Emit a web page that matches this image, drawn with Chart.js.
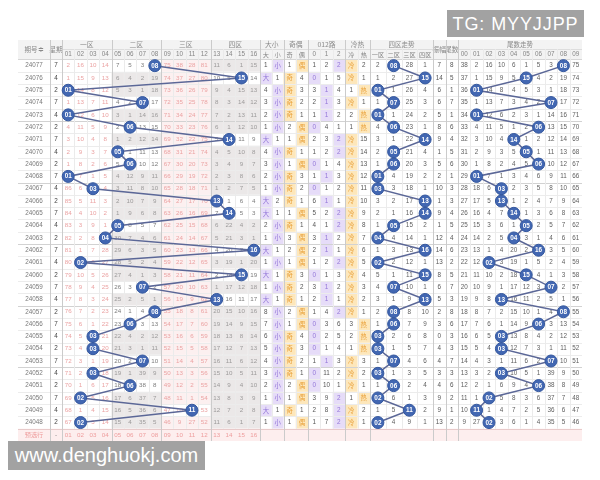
<!DOCTYPE html>
<html>
<head>
<meta charset="utf-8">
<script src="https://cdn.jsdelivr.net/npm/chart.js@4.4.1/dist/chart.umd.min.js"></script>
<style>
  html, body { margin: 0; padding: 0; background: #ffffff; }
  #wrap { position: relative; width: 600px; height: 480px; overflow: hidden; }
  #trend { position: absolute; left: 0; top: 0; }
  .tag { position: absolute; background: #a2a2a2; color: #ffffff;
         font-family: "Liberation Sans", Arial, sans-serif; white-space: nowrap; text-align: center; }
  #tg { left: 447px; top: 10px; width: 137px; height: 27px; line-height: 28px; font-size: 18px; letter-spacing: 0.9px; }
  #site { left: 8px; top: 441px; width: 197px; height: 29px; line-height: 29px; font-size: 20px; }
</style>
</head>
<body>
<div id="wrap">
  <canvas id="trend" width="600" height="480"></canvas>
  <div class="tag" id="tg">TG: MYYJJPP</div>
  <div class="tag" id="site">www.denghuokj.com</div>
</div>
<script>
// ---- draw data, newest issue first ----
const issues = ['24077','24076','24075','24074','24073','24072','24071','24070','24069','24068',
                '24067','24066','24065','24064','24063','24062','24061','24060','24059','24058',
                '24057','24056','24055','24054','24053','24052','24051','24050','24049','24048'];
const weekdays = [7,4,2,7,4,2,7,4,2,7, 4,2,7,4,2,7,4,2,7,4, 2,7,4,2,7,4,2,7,4,2];
const drawnNumbers = [8,15,1,7,1,6,14,5,6,1, 3,13,14,5,4,16,2,15,7,13, 8,6,3,3,7,3,6,2,11,2];
const amplitudes = [7,14,6,6,5,8,9,1,5,2, 10,1,9,1,12,14,13,8,6,5, 2,3,0,4,4,3,4,9,9,13];
const heatState = ['冷','冷','热','冷','热','热','冷','冷','冷','冷',
                   '冷','冷','冷','冷','冷','冷','冷','冷','冷','冷',
                   '冷','热','热','热','冷','冷','冷','热','冷','冷'];

// ---- tick / header labels ----
const numberLabels = ['01','02','03','04','05','06','07','08','09','10','11','12','13','14','15','16'];
const zoneNames = ['一区','二区','三区','四区'];
const sizeLabels = ['大','小'];
const parityLabels = ['奇','偶'];
const routeLabels = ['0','1','2'];
const heatLabels = ['冷','热'];
const tailLabels = ['00','01','02','03','04','05','06','07','08','09'];

// ---- omission counts shown on the oldest issue (24048); 0 marks the hit ----
const baseMissNumbers = [67,0,3,14,15,4,35,5,46,9,27,52,11,6,1,7];
const baseMissSize = [1,0];
const baseMissParity = [1,0];
const baseMissRoute = [1,7,0];
const baseMissHeat = [0,1];
const baseMissZone = [0,4,9,1];
const baseMissTail = [9,27,0,3,6,1,4,35,5,46];

const ROWS = issues.length;

// which column of each block an issue lands in
const hitOf = {
  num: i => drawnNumbers[i] - 1,
  size: i => drawnNumbers[i] >= 9 ? 0 : 1,
  parity: i => drawnNumbers[i] % 2 === 1 ? 0 : 1,
  route: i => drawnNumbers[i] % 3,
  heat: i => heatState[i] === '冷' ? 0 : 1,
  zone: i => Math.floor((drawnNumbers[i] - 1) / 4),
  tail: i => drawnNumbers[i] % 10
};

// omission = draws since the column was last hit, walked up from the oldest issue
function buildMiss(base, hit) {
  const out = new Array(ROWS);
  out[ROWS - 1] = base.slice();
  for (let i = ROWS - 2; i >= 0; i--) {
    const h = hit(i);
    out[i] = out[i + 1].map((v, c) => (c === h ? 0 : v + 1));
  }
  return out;
}
const miss = {
  num: buildMiss(baseMissNumbers, hitOf.num),
  size: buildMiss(baseMissSize, hitOf.size),
  parity: buildMiss(baseMissParity, hitOf.parity),
  route: buildMiss(baseMissRoute, hitOf.route),
  heat: buildMiss(baseMissHeat, hitOf.heat),
  zone: buildMiss(baseMissZone, hitOf.zone),
  tail: buildMiss(baseMissTail, hitOf.tail)
};

// ---- table layout (column widths in px, row height in px) ----
const HEAD_H = 19.5, ROW_H = 12.31;
const columns = [];
function addBlock(block, labels, w) {
  labels.forEach((lab, k) => columns.push({ block, k, lab, w }));
}
addBlock('issue', ['期号'], 32);
addBlock('week', ['星期'], 12);
addBlock('num', numberLabels, 12.375);
addBlock('size', sizeLabels, 11.75);
addBlock('parity', parityLabels, 12.25);
addBlock('route', routeLabels, 37 / 3);
addBlock('heat', heatLabels, 12.5);
addBlock('zone', zoneNames, 15.75);
addBlock('amp', ['振幅'], 12.5);
addBlock('tailv', ['尾数'], 12.5);
addBlock('tail', tailLabels, 12.4);
let acc = 0;
columns.forEach(c => { c.x0 = acc; acc += c.w; c.x1 = acc; c.cx = (c.x0 + c.x1) / 2; });
const TABLE_W = acc;
const colOf = (block, k) => columns.find(c => c.block === block && c.k === k);

// group header spans: [label, block, firstK, lastK, spansBothRows]
const groupHeads = [
  ['期号≑', 'issue', 0, 0, true], ['星期', 'week', 0, 0, true],
  ['一区', 'num', 0, 3], ['二区', 'num', 4, 7], ['三区', 'num', 8, 11], ['四区', 'num', 12, 15],
  ['大小', 'size', 0, 1], ['奇偶', 'parity', 0, 1], ['012路', 'route', 0, 2], ['冷热', 'heat', 0, 1],
  ['四区走势', 'zone', 0, 3], ['振幅', 'amp', 0, 0, true], ['尾数', 'tailv', 0, 0, true],
  ['尾数走势', 'tail', 0, 9]
];

const NUM_FONT = '"Liberation Sans", Arial, sans-serif';
const CJK_FONT = '"Noto Sans CJK SC", "Noto Sans", sans-serif';

// zone shading for the 01-16 block: [background, text] and the row colours when the zone is hit
const zoneStyle = [
  { bg: '#ffffff', fg: '#eba3a3', hitBg: '#ffffff', hitFg: '#eba3a3' },
  { bg: '#ebe8e8', fg: '#9c9a9a', hitBg: '#ffffff', hitFg: '#7c7c7c' },
  { bg: '#fcf0f0', fg: '#eba3a3', hitBg: '#ffffff', hitFg: '#eba3a3' },
  { bg: '#ebe8e8', fg: '#9c9a9a', hitBg: '#ffffff', hitFg: '#7c7c7c' }
];
const purpleHit = { bg: '#e6dcf8', fg: '#9376d8' };
const orangeHit = { bg: '#fde7bb', fg: '#e9a038' };

const tablePlugin = {
  id: 'trendTable',
  beforeDatasetsDraw(chart) {
    const ctx = chart.ctx, xs = chart.scales.x, ys = chart.scales.y;
    const px = v => xs.getPixelForValue(v);
    const py = v => ys.getPixelForValue(v);
    const headTop = py(-HEAD_H / ROW_H), headMid = py(-HEAD_H / ROW_H / 2 - 0.05), bodyTop = py(0);
    const left = px(0), right = px(TABLE_W);
    ctx.save();
    ctx.textAlign = 'center';
    ctx.textBaseline = 'middle';

    const rect = (x0, x1, y0, y1, color) => { ctx.fillStyle = color; ctx.fillRect(x0, y0, x1 - x0, y1 - y0); };
    const text = (s, x, y, color, size, font, bold) => {
      ctx.fillStyle = color;
      ctx.font = (bold ? 'bold ' : '') + size + 'px ' + font;
      ctx.fillText(s, x, y);
    };

    // header
    rect(left, right, headTop, bodyTop, '#f3f3f3');
    groupHeads.forEach(([lab, block, a, b, both]) => {
      const c0 = colOf(block, a), c1 = colOf(block, b);
      const x = (px(c0.x0) + px(c1.x1)) / 2;
      const y = both ? (headTop + bodyTop) / 2 : (headTop + headMid) / 2;
      const isCjk = /[\u4e00-\u9fff]/.test(lab);
      text(lab, x, y, '#8a8a8a', lab.length > 2 && block !== 'route' ? 6.5 : 6.8, isCjk ? CJK_FONT : NUM_FONT);
    });
    columns.forEach(c => {
      if (['issue', 'week', 'amp', 'tailv'].includes(c.block)) return;
      const isCjk = /[\u4e00-\u9fff]/.test(c.lab);
      text(c.lab, px(c.cx), (headMid + bodyTop) / 2, '#858585', isCjk ? 6.2 : 6.3, isCjk ? CJK_FONT : NUM_FONT);
    });

    // body cells
    for (let i = 0; i < ROWS; i++) {
      const y0 = py(i), y1 = py(i + 1), yc = py(i + 0.5);
      const n = drawnNumbers[i];
      columns.forEach(c => {
        const x0 = px(c.x0), x1 = px(c.x1), xc = px(c.cx);
        switch (c.block) {
          case 'issue':
            text(issues[i], xc, yc, '#7a7a7a', 6.3, NUM_FONT); break;
          case 'week':
            text(String(weekdays[i]), xc, yc, '#444444', 6.3, NUM_FONT); break;
          case 'num': {
            const z = Math.floor(c.k / 4), st = zoneStyle[z];
            const zoneHit = hitOf.zone(i) === z;
            rect(x0, x1, y0, y1, zoneHit ? st.hitBg : st.bg);
            if (hitOf.num(i) !== c.k) text(String(miss.num[i][c.k]), xc, yc, zoneHit ? st.hitFg : st.fg, 6.2, NUM_FONT);
            break;
          }
          case 'size': case 'parity': case 'route': case 'heat': {
            const labs = { size: sizeLabels, parity: parityLabels, route: routeLabels, heat: heatLabels }[c.block];
            const style = (c.block === 'size' || c.block === 'route') ? purpleHit : orangeHit;
            if (hitOf[c.block](i) === c.k) {
              rect(x0, x1, y0, y1, style.bg);
              const lab = labs[c.k];
              text(lab, xc, yc, style.fg, 6.4, /\d/.test(lab) ? NUM_FONT : CJK_FONT);
            } else {
              text(String(miss[c.block][i][c.k]), xc, yc, '#555555', 6.3, NUM_FONT);
            }
            break;
          }
          case 'zone': case 'tail':
            if (hitOf[c.block](i) !== c.k) text(String(miss[c.block][i][c.k]), xc, yc, '#5e5e5e', 6.3, NUM_FONT);
            break;
          case 'amp':
            text(String(amplitudes[i]), xc, yc, '#555555', 6.3, NUM_FONT); break;
          case 'tailv':
            text(String(n % 10), xc, yc, '#555555', 6.3, NUM_FONT); break;
        }
      });
    }

    // footer row
    const fy0 = py(ROWS), fy1 = py(ROWS + 1), fyc = py(ROWS + 0.5);
    rect(left, right, fy0, fy1, '#fdeeee');
    text('预选行', px(colOf('issue', 0).cx), fyc, '#ee9d9d', 6.2, CJK_FONT);
    text('-', px(colOf('week', 0).cx), fyc, '#8a8a8a', 6.3, NUM_FONT);
    numberLabels.forEach((lab, k) => text(lab, px(colOf('num', k).cx), fyc, '#ee9d9d', 6.2, NUM_FONT));

    // grid lines
    ctx.lineWidth = 1;
    const hline = (y, x0, x1, color) => { ctx.strokeStyle = color; ctx.beginPath(); ctx.moveTo(x0, Math.round(y) + 0.5); ctx.lineTo(x1, Math.round(y) + 0.5); ctx.stroke(); };
    const vline = (x, y0, y1, color) => { ctx.strokeStyle = color; ctx.beginPath(); ctx.moveTo(Math.round(x) + 0.5, y0); ctx.lineTo(Math.round(x) + 0.5, y1); ctx.stroke(); };
    for (let i = 1; i < ROWS; i++) hline(py(i), left, right, i % 5 === 0 ? '#d2d2d2' : '#ececec');
    hline(bodyTop, left, right, '#d6d6d6');
    hline(py(ROWS), left, right, '#e8caca');
    // sub-header divider under multi-column groups
    groupHeads.forEach(([lab, block, a, b, both]) => {
      if (both) return;
      hline(headMid, px(colOf(block, a).x0), px(colOf(block, b).x1), '#dddddd');
    });
    columns.forEach((c, idx) => {
      if (idx === 0) return;
      const prev = columns[idx - 1];
      const groupEdge = prev.block !== c.block || (c.block === 'num' && c.k % 4 === 0);
      if (groupEdge) vline(px(c.x0), headTop, py(ROWS + 1), '#cbcbcb');
      else vline(px(c.x0), headMid, py(ROWS), '#ebebeb');
    });
    ctx.restore();
  }
};

// white two-digit numbers on every drawn ball
const badgePlugin = {
  id: 'ballLabels',
  afterDatasetsDraw(chart) {
    const ctx = chart.ctx;
    ctx.save();
    ctx.textAlign = 'center';
    ctx.textBaseline = 'middle';
    ctx.fillStyle = '#ffffff';
    ctx.font = 'bold 6.4px ' + NUM_FONT;
    chart.data.datasets.forEach((ds, d) => {
      chart.getDatasetMeta(d).data.forEach((pt, j) => {
        ctx.fillText(numberLabels[drawnNumbers[j] - 1], pt.x, pt.y + 0.3);
      });
    });
    ctx.restore();
  }
};

const lineStyle = {
  borderColor: '#5b6797',
  borderWidth: 1.5,
  pointRadius: 6,
  pointBackgroundColor: '#4267b2',
  pointBorderColor: '#34579e',
  pointBorderWidth: 1,
  tension: 0,
  fill: false,
  clip: false
};

new Chart(document.getElementById('trend'), {
  type: 'line',
  data: {
    datasets: [
      Object.assign({ label: '号码走势', data: drawnNumbers.map((v, i) => ({ x: colOf('num', hitOf.num(i)).cx, y: i + 0.5 })) }, lineStyle),
      Object.assign({ label: '四区走势', data: drawnNumbers.map((v, i) => ({ x: colOf('zone', hitOf.zone(i)).cx, y: i + 0.5 })) }, lineStyle),
      Object.assign({ label: '尾数走势', data: drawnNumbers.map((v, i) => ({ x: colOf('tail', hitOf.tail(i)).cx, y: i + 0.5 })) }, lineStyle)
    ]
  },
  options: {
    responsive: false,
    animation: false,
    events: [],
    layout: { padding: { left: 18, top: 40, right: 18, bottom: 39 } },
    scales: {
      x: { type: 'linear', display: false, min: 0, max: TABLE_W },
      y: { type: 'linear', display: false, reverse: true, min: -HEAD_H / ROW_H, max: ROWS + 1 }
    },
    plugins: { legend: { display: false }, tooltip: { enabled: false } }
  },
  plugins: [tablePlugin, badgePlugin]
});
</script>
</body>
</html>
